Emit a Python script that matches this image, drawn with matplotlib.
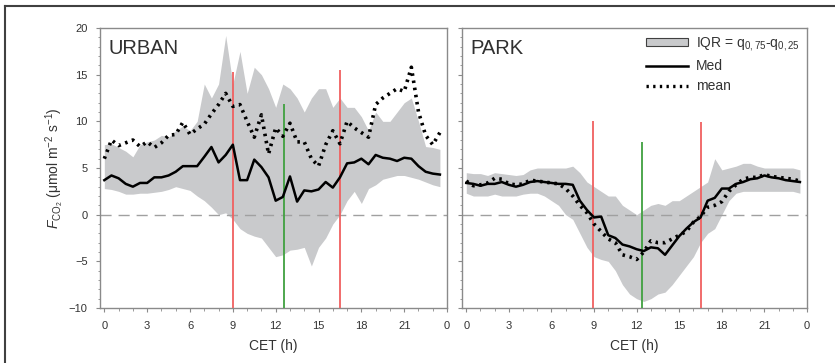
import numpy as np
import matplotlib.pyplot as plt
from matplotlib.lines import Line2D
from matplotlib.patches import Patch

plt.rcParams['font.family'] = ['Liberation Sans', 'DejaVu Sans']
plt.rcParams['mathtext.fontset'] = 'custom'
plt.rcParams['mathtext.rm'] = 'Liberation Sans'
plt.rcParams['mathtext.it'] = 'Liberation Sans:italic'

# half-hourly time axis, 0.0 ... 23.5 h
hours = np.arange(48) * 0.5

urban_med = [3.7, 4.2, 3.9, 3.3, 3.0, 3.4, 3.4, 4.0, 4.0, 4.2, 4.6, 5.2,
             5.2, 5.2, 6.2, 7.25, 5.6, 6.4, 7.5, 3.7, 3.7, 5.9, 5.1, 4.0,
             1.5, 1.9, 4.1, 1.4, 2.6, 2.5, 2.7, 3.5, 2.9, 4.0, 5.5, 5.6,
             6.0, 5.4, 6.4, 6.1, 6.0, 5.75, 6.1, 6.0, 5.2, 4.6, 4.4, 4.3]
urban_mean = [6.0, 8.0, 7.4, 7.7, 8.0, 7.3, 7.8, 7.2, 7.7, 8.5, 8.6, 9.9,
              8.6, 9.2, 9.7, 10.8, 11.8, 13.0, 11.6, 11.8, 10.0, 8.3, 10.7, 6.5,
              9.3, 8.4, 9.8, 7.8, 7.8, 6.0, 5.2, 7.5, 9.0, 7.6, 10.0, 9.3,
              8.8, 8.3, 11.8, 12.5, 13.0, 13.5, 13.2, 15.8, 11.0, 8.5, 7.5, 8.8]
urban_q75 = [7.5, 7.6, 7.2, 6.8, 6.2, 7.5, 7.8, 8.0, 8.5, 8.3, 9.0, 9.5,
             9.0, 10.0, 14.0, 12.5, 14.0, 19.2, 14.0, 17.5, 13.0, 15.8, 15.0, 13.5,
             11.5, 14.0, 13.5, 12.5, 11.0, 12.5, 13.5, 13.5, 11.5, 12.5, 11.5, 11.5,
             10.5, 9.0, 11.0, 10.0, 10.0, 11.0, 12.0, 12.5, 10.0, 7.3, 7.2, 7.0]
urban_q25 = [2.8, 2.7, 2.5, 2.2, 2.2, 2.3, 2.3, 2.4, 2.5, 2.7, 3.0, 2.8,
             2.6, 2.0, 1.5, 0.8, 0.0, 0.2, -0.5, -1.5, -2.0, -2.3, -2.5, -3.5,
             -4.5, -4.3, -3.8, -3.7, -3.5, -5.5, -3.5, -2.5, -1.0, 0.0, 1.5, 2.5,
             1.2, 2.8, 3.2, 3.8, 4.0, 4.2, 4.2, 4.0, 3.8, 3.5, 3.2, 3.0]

park_med = [3.4, 3.3, 3.1, 3.3, 3.3, 3.5, 3.2, 3.0, 3.2, 3.5, 3.6, 3.5,
            3.4, 3.3, 3.3, 3.2, 1.5, 0.5, -0.3, -0.2, -2.2, -2.5, -3.2, -3.4,
            -3.7, -3.9, -3.5, -3.6, -4.3, -3.3, -2.3, -1.5, -0.8, -0.3, 1.5, 1.8,
            2.8, 2.8, 3.3, 3.5, 3.8, 3.9, 4.2, 4.0, 3.9, 3.7, 3.6, 3.5]
park_mean = [3.6, 3.1, 3.2, 3.4, 3.9, 3.8, 3.3, 3.2, 3.3, 3.7, 3.6, 3.5,
             3.4, 3.3, 2.8, 2.0, 1.0, 0.2, -1.0, -1.8, -2.6, -3.0, -4.3, -4.5,
             -4.8, -4.0, -2.8, -3.0, -3.0, -2.6, -2.2, -1.8, -0.8, -0.2, 0.8, 1.0,
             1.4, 2.5, 3.2, 3.8, 4.0, 4.0, 4.3, 4.1, 4.0, 3.9, 3.8, 3.6]
park_q75 = [4.5, 4.4, 4.4, 4.2, 4.5, 4.4, 4.3, 4.2, 4.3, 4.8, 5.0, 5.0,
            5.0, 5.0, 5.0, 5.2, 4.5, 3.5, 3.0, 2.5, 2.0, 2.0, 1.0, 0.5,
            0.0, 0.5, 1.0, 1.2, 1.0, 1.5, 1.5, 2.0, 2.5, 3.0, 3.5, 6.0,
            4.8, 5.0, 5.2, 5.5, 5.5, 5.2, 5.0, 5.0, 5.0, 5.0, 5.0, 4.8]
park_q25 = [2.3, 2.0, 2.0, 2.0, 2.2, 2.0, 2.0, 2.0, 2.2, 2.3, 2.3, 2.0,
            1.5, 1.0, 0.0, -0.5, -2.0, -3.5, -4.5, -4.8, -5.0, -6.0, -7.5, -8.5,
            -9.0, -9.3, -9.0, -8.5, -8.3, -7.5, -6.5, -5.5, -4.5, -3.0, -2.0, -1.5,
            0.0, 1.5, 2.3, 2.5, 2.5, 2.5, 2.5, 2.5, 2.5, 2.5, 2.5, 2.3]

# sunrise / noon / sunset markers: (hour, top of line)
urban_marks = [(9.0, 15.3, '#f06060'), (12.6, 11.9, '#40a040'), (16.5, 15.5, '#f06060')]
park_marks = [(8.9, 10.0, '#f06060'), (12.4, 7.8, '#40a040'), (16.5, 9.9, '#f06060')]

xticks = [0, 3, 6, 9, 12, 15, 18, 21, 24]
xticklabels = ['0', '3', '6', '9', '12', '15', '18', '21', '0']

fill_c = '#c9cacc'
spine_c = '#8a8a8a'
text_c = '#333333'
dot_ls = (0, (0.7, 1.3))

fig = plt.figure(figsize=(8.35, 3.63), dpi=100)
ax1 = fig.add_axes([0.1198, 0.1515, 0.4156, 0.7713])
ax2 = fig.add_axes([0.5533, 0.1515, 0.4132, 0.7713])

panels = [(ax1, 'URBAN', urban_med, urban_mean, urban_q25, urban_q75, urban_marks),
          (ax2, 'PARK', park_med, park_mean, park_q25, park_q75, park_marks)]

for ax, name, med, mean, q25, q75, marks in panels:
    ax.fill_between(hours, q25, q75, color=fill_c, lw=0, zorder=1)
    ax.axhline(0, color='#a0a0a0', lw=1, ls=(0, (8, 5)), zorder=2)
    for xh, top, c in marks:
        ax.vlines(xh, -10, top, color=c, lw=1.3, zorder=3)
    ax.plot(hours, med, color='black', lw=1.8, zorder=4)
    ax.plot(hours, mean, color='black', lw=2.6, ls=dot_ls, zorder=4)
    ax.text(0.025, 0.96, name, transform=ax.transAxes, fontsize=14.5,
            color='#303030', va='top', ha='left')
    ax.set_xlim(-0.3, 24)
    ax.set_ylim(-10, 20)
    ax.set_xticks(xticks)
    ax.set_xticklabels(xticklabels)
    ax.set_xticks(np.arange(0, 25, 1), minor=True)
    ax.set_yticks([-10, -5, 0, 5, 10, 15, 20])
    ax.set_yticks(np.arange(-10, 21, 1), minor=True)
    ax.tick_params(which='major', length=3, width=0.8, color=spine_c,
                   labelsize=8, labelcolor=text_c, pad=6)
    ax.tick_params(which='minor', length=1.8, width=0.6, color=spine_c)
    for s in ax.spines.values():
        s.set_color(spine_c)
        s.set_linewidth(1.0)
    ax.set_xlabel('CET (h)', fontsize=10, color=text_c, labelpad=6)

ax1.set_ylabel(r'$F_{\mathrm{CO_2}}$ ($\mathrm{\mu}$mol m$^{-2}$ s$^{-1}$)',
               fontsize=10, color=text_c, labelpad=2)
ax2.tick_params(axis='y', labelleft=False)

handles = [Patch(facecolor=fill_c, edgecolor='#404040', lw=0.8),
           Line2D([], [], color='black', lw=1.8),
           Line2D([], [], color='black', lw=2.4, ls=dot_ls)]
labels = [r'IQR = q$_{0,75}$-q$_{0,25}$', 'Med', 'mean']
leg = ax2.legend(handles, labels, loc='upper right', frameon=False, fontsize=10,
                 handlelength=3.0, handleheight=0.55, labelspacing=0.45,
                 borderaxespad=0.1, handletextpad=0.6)
for t in leg.get_texts():
    t.set_color(text_c)

# outer frame around the figure
fig.add_artist(Line2D([0.006, 0.006], [0.0, 0.983], transform=fig.transFigure,
                      color='#404040', lw=1.5))
fig.add_artist(Line2D([0.006, 1.0], [0.983, 0.983], transform=fig.transFigure,
                      color='#404040', lw=1.5))

fig.savefig('out.png', dpi=100)
